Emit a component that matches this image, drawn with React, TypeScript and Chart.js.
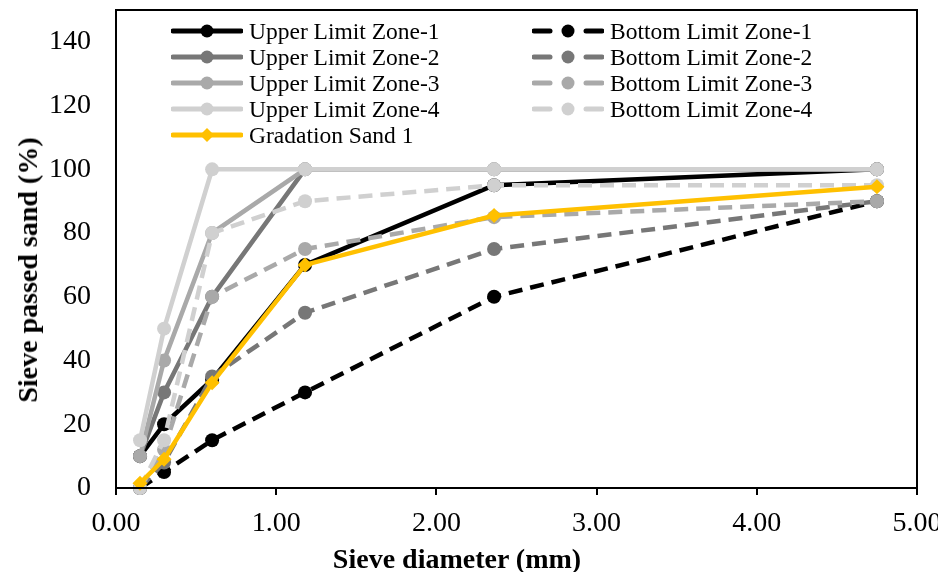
import React, { useEffect, useRef } from "react";
import { Chart, registerables } from "chart.js";

Chart.register(...registerables);

// ---- Data ----
const sieveSizes = [0.15, 0.3, 0.6, 1.18, 2.36, 4.75];
const upperZone1 = [10, 20, 34, 70, 95, 100];
const upperZone2 = [10, 30, 60, 100, 100, 100];
const upperZone3 = [10, 40, 80, 100, 100, 100];
const upperZone4 = [15, 50, 100, 100, 100, 100];
const bottomZone1 = [0, 5, 15, 30, 60, 90];
const bottomZone2 = [0, 8, 35, 55, 75, 90];
const bottomZone3 = [0, 12, 60, 75, 85, 90];
const bottomZone4 = [0, 15, 80, 90, 95, 95];
const gradationSand1 = [1.5, 9, 33, 70, 85.5, 94.5];
const xTickValues = [0, 1, 2, 3, 4, 5];
const yTickValues = [0, 20, 40, 60, 80, 100, 120, 140];

const FONT = "'Liberation Serif', 'Times New Roman', serif";
const BLACK = "#000000";
const DARK = "#777777";
const MID = "#A9A9A9";
const LIGHT = "#D0D0D0";
const GOLD = "#FFC000";

type SeriesDef = {
  label: string;
  values: number[];
  color: string;
  dashed: boolean;
  marker: "circle" | "rectRot";
  order: number;
};

const series: SeriesDef[] = [
  { label: "Upper Limit Zone-1", values: upperZone1, color: BLACK, dashed: false, marker: "circle", order: 9 },
  { label: "Bottom Limit Zone-1", values: bottomZone1, color: BLACK, dashed: true, marker: "circle", order: 8 },
  { label: "Upper Limit Zone-2", values: upperZone2, color: DARK, dashed: false, marker: "circle", order: 7 },
  { label: "Bottom Limit Zone-2", values: bottomZone2, color: DARK, dashed: true, marker: "circle", order: 6 },
  { label: "Upper Limit Zone-3", values: upperZone3, color: MID, dashed: false, marker: "circle", order: 5 },
  { label: "Bottom Limit Zone-3", values: bottomZone3, color: MID, dashed: true, marker: "circle", order: 4 },
  { label: "Upper Limit Zone-4", values: upperZone4, color: LIGHT, dashed: false, marker: "circle", order: 3 },
  { label: "Bottom Limit Zone-4", values: bottomZone4, color: LIGHT, dashed: true, marker: "circle", order: 2 },
  { label: "Gradation Sand 1", values: gradationSand1, color: GOLD, dashed: false, marker: "rectRot", order: 1 },
];

const framePlugin = {
  id: "frame",
  afterDraw(chart: any) {
    const { ctx, chartArea } = chart;
    ctx.save();
    ctx.strokeStyle = "#000";
    ctx.lineWidth = 2;
    ctx.strokeRect(chartArea.left, chartArea.top, chartArea.right - chartArea.left, chartArea.bottom - chartArea.top);
    // x tick labels (drawn here so the last one is not clipped)
    const xs = chart.scales.x;
    ctx.fillStyle = "#000";
    ctx.font = `28px ${FONT}`;
    ctx.textAlign = "center";
    ctx.textBaseline = "middle";
    xTickValues.forEach((v) => {
      ctx.fillText(v.toFixed(2), xs.getPixelForValue(v), chartArea.bottom + 36);
    });
    ctx.restore();
  },
};

function LegendSample({ s }: { s: SeriesDef }) {
  const w = 72;
  const h = 18;
  const cy = h / 2;
  const cx = w / 2;
  return (
    <svg width={w} height={h} style={{ display: "block" }}>
      {s.dashed ? (
        <>
          <line x1={2} y1={cy} x2={18} y2={cy} stroke={s.color} strokeWidth={5} strokeLinecap="round" />
          <line x1={w - 18} y1={cy} x2={w - 2} y2={cy} stroke={s.color} strokeWidth={5} strokeLinecap="round" />
        </>
      ) : (
        <line x1={2} y1={cy} x2={w - 2} y2={cy} stroke={s.color} strokeWidth={5} strokeLinecap="round" />
      )}
      {s.marker === "circle" ? (
        <circle cx={cx} cy={cy} r={6.5} fill={s.color} />
      ) : (
        <polygon points={`${cx},${cy - 7} ${cx + 7},${cy} ${cx},${cy + 7} ${cx - 7},${cy}`} fill={s.color} />
      )}
    </svg>
  );
}

export default function App() {
  const canvasRef = useRef<HTMLCanvasElement>(null);

  useEffect(() => {
    if (!canvasRef.current) return;
    const datasets = series.map((s) => ({
      label: s.label,
      data: sieveSizes.map((x, i) => ({ x, y: s.values[i] })),
      borderColor: s.color,
      backgroundColor: s.color,
      borderWidth: 4.5,
      borderDash: s.dashed ? [14, 8] : [],
      pointStyle: s.marker,
      pointRadius: s.marker === "circle" ? 7 : 7.5,
      pointBorderWidth: 0,
      pointBackgroundColor: s.color,
      pointBorderColor: s.color,
      tension: 0,
      fill: false,
      clip: false as any,
      order: s.order,
    }));

    const zeroPad = (scale: any) => {
      scale.paddingTop = 0;
      scale.paddingBottom = 0;
      scale.paddingLeft = 0;
      scale.paddingRight = 0;
    };

    const chart = new Chart(canvasRef.current, {
      type: "line",
      data: { datasets },
      plugins: [framePlugin],
      options: {
        animation: false,
        responsive: false,
        maintainAspectRatio: false,
        layout: { padding: { left: 0, right: 29, top: 10, bottom: 0 } },
        plugins: {
          legend: { display: false },
          tooltip: { enabled: false },
        },
        scales: {
          x: {
            type: "linear",
            min: 0,
            max: 5,
            afterBuildTicks: (scale: any) => {
              scale.ticks = xTickValues.map((v) => ({ value: v }));
            },
            afterFit: (scale: any) => {
              scale.height = 92;
              zeroPad(scale);
            },
            ticks: {
              display: false,
              autoSkip: false,
            },
            grid: {
              drawOnChartArea: false,
              drawTicks: true,
              tickLength: 7,
              color: "#000",
              lineWidth: 2,
            },
            border: { display: true, color: "#000", width: 2 },
          },
          y: {
            type: "linear",
            min: 0,
            max: 150,
            afterBuildTicks: (scale: any) => {
              scale.ticks = yTickValues.map((v) => ({ value: v }));
            },
            afterFit: (scale: any) => {
              scale.width = 116;
              zeroPad(scale);
            },
            ticks: {
              font: { family: FONT, size: 28 },
              color: "#000",
              padding: 25,
              autoSkip: false,
            },
            grid: { drawOnChartArea: false, drawTicks: false },
            border: { display: true, color: "#000", width: 2 },
          },
        },
      } as any,
    });
    return () => chart.destroy();
  }, []);

  const col1 = [series[0], series[2], series[4], series[6], series[8]];
  const col2 = [series[1], series[3], series[5], series[7]];
  const rowY = [31, 57, 83, 109, 135];

  const legendItem = (s: SeriesDef, left: number, top: number) => (
    <div
      key={s.label}
      style={{
        position: "absolute",
        left,
        top: top - 9,
        height: 18,
        display: "flex",
        alignItems: "center",
        whiteSpace: "nowrap",
      }}
    >
      <LegendSample s={s} />
      <span
        style={{
          marginLeft: 6,
          fontFamily: FONT,
          fontSize: 23.5,
          lineHeight: "18px",
          color: "#000",
        }}
      >
        {s.label}
      </span>
    </div>
  );

  return (
    <div
      style={{
        position: "relative",
        width: 946,
        height: 580,
        margin: -8,
        overflow: "hidden",
      }}
    >
      <canvas ref={canvasRef} width={946} height={580} style={{ display: "block" }} />
      {col1.map((s, i) => legendItem(s, 171, rowY[i]))}
      {col2.map((s, i) => legendItem(s, 532, rowY[i]))}
      <div
        style={{
          position: "absolute",
          left: 457,
          top: 559,
          transform: "translate(-50%, -50%)",
          fontFamily: FONT,
          fontWeight: "bold",
          fontSize: 28,
          lineHeight: 1,
          whiteSpace: "nowrap",
          color: "#000",
        }}
      >
        Sieve diameter (mm)
      </div>
      <div
        style={{
          position: "absolute",
          left: 28,
          top: 270,
          transform: "translate(-50%, -50%) rotate(-90deg)",
          fontFamily: FONT,
          fontWeight: "bold",
          fontSize: 28,
          lineHeight: 1,
          whiteSpace: "nowrap",
          color: "#000",
        }}
      >
        Sieve passed sand (%)
      </div>
    </div>
  );
}
